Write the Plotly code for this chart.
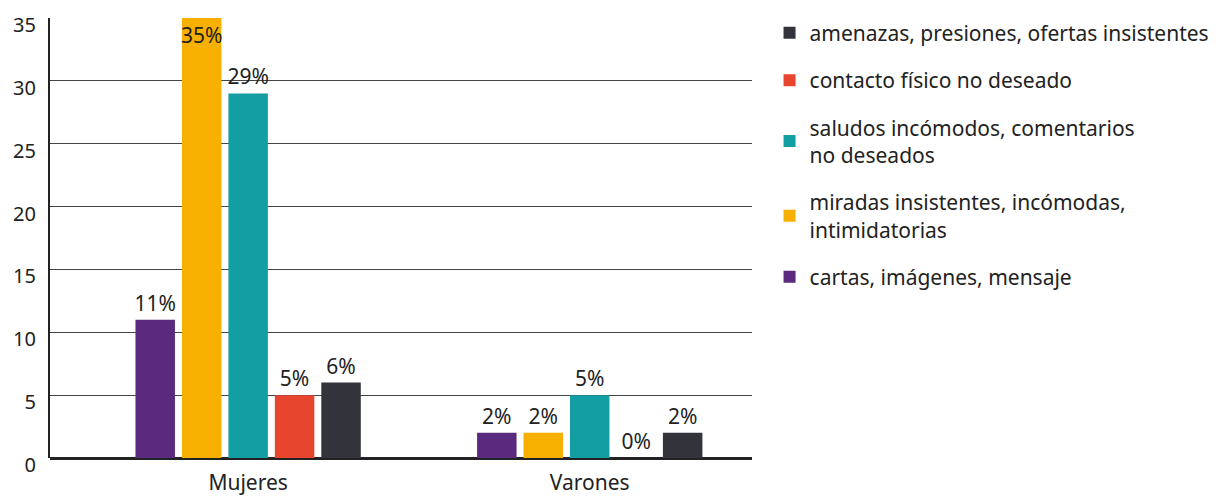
import plotly.graph_objects as go

categories = ["Mujeres", "Varones"]
series_names = [
    "cartas, imágenes, mensaje",
    "miradas insistentes, incómodas,<br>intimidatorias",
    "saludos incómodos, comentarios<br>no deseados",
    "contacto físico no deseado",
    "amenazas, presiones, ofertas insistentes",
]
cartas = [11, 2]
miradas = [35, 2]
saludos = [29, 5]
contacto = [5, 0]
amenazas = [6, 2]
series_values = [cartas, miradas, saludos, contacto, amenazas]
colors = ["#5a2a7e", "#f7b000", "#139ea3", "#e8452f", "#33333c"]
y_ticks = [0, 5, 10, 15, 20, 25, 30, 35]
y_max = 35

FONT = "Noto Sans"

fig = go.Figure()
n = len(series_names)
for i, (name, vals, col) in enumerate(zip(series_names, series_values, colors)):
    fig.add_trace(go.Bar(
        x=categories, y=vals, name=name,
        marker=dict(color=col, line=dict(width=0)),
        text=[f"{v}%" for v in vals],
        textposition=["inside" if v >= y_max else "outside" for v in vals],
        insidetextanchor="end",
        textangle=0,
        constraintext="none",
        textfont=dict(family=FONT, size=21, color="#222222"),
        cliponaxis=False,
        legendgroup=f"g{i}",
        legendrank=n - i,
    ))

fig.update_layout(
    width=1227, height=496,
    margin=dict(l=50, r=475, t=18, b=38),
    paper_bgcolor="white", plot_bgcolor="white",
    barmode="group", bargap=0.32, bargroupgap=0.15,
    font=dict(family=FONT, size=20, color="#222222"),
    showlegend=True,
    legend=dict(
        x=1.025, xanchor="left", y=1.012, yanchor="top",
        traceorder="grouped", tracegroupgap=17,
        font=dict(family=FONT, size=21, color="#222222"),
        itemclick=False, maxheight=480,
    ),
    xaxis=dict(
        range=[-0.58, 1.475],
        showline=False, ticks="", showgrid=False,
        automargin=False,
        ticklabelstandoff=10,
        tickfont=dict(family=FONT, size=21, color="#222222"),
    ),
    yaxis=dict(
        range=[0, y_max], tickvals=y_ticks,
        showgrid=True, gridcolor="#444444", gridwidth=1.3,
        showline=True, linecolor="#222222", linewidth=2,
        zeroline=True, zerolinecolor="#222222", zerolinewidth=2.5,
        automargin=False,
        ticks="", ticklabelstandoff=8, ticklabelshift=7,
        ticklabeloverflow="allow",
        tickfont=dict(family=FONT, size=20, color="#222222"),
    ),
)

fig.write_html("out.html", config={"displayModeBar": False},
               post_script="document.body.style.margin='0';")
